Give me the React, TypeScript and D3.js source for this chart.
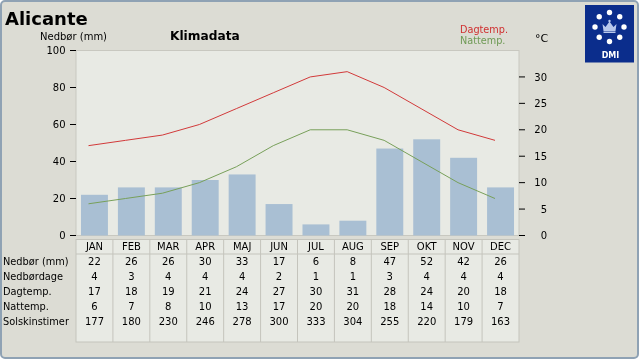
import React from "react";
import * as d3 from "d3";

const months = ["JAN", "FEB", "MAR", "APR", "MAJ", "JUN", "JUL", "AUG", "SEP", "OKT", "NOV", "DEC"];
const nedbor = [22, 26, 26, 30, 33, 17, 6, 8, 47, 52, 42, 26];
const nedbordage = [4, 3, 4, 4, 4, 2, 1, 1, 3, 4, 4, 4];
const dagtemp = [17, 18, 19, 21, 24, 27, 30, 31, 28, 24, 20, 18];
const nattemp = [6, 7, 8, 10, 13, 17, 20, 20, 18, 14, 10, 7];
const solskin = [177, 180, 230, 246, 278, 300, 333, 304, 255, 220, 179, 163];
const rowLabels = ["Nedbør (mm)", "Nedbørdage", "Dagtemp.", "Nattemp.", "Solskinstimer"];
const leftTicks = [0, 20, 40, 60, 80, 100];
const rightTicks = [0, 5, 10, 15, 20, 25, 30];

const FONT = "DejaVu Sans, Verdana, sans-serif";
const PL = 76, PR = 519, PT = 50.5, PB = 235.5;

export default function App() {
  const xBand = d3.scaleBand<string>().domain(months).range([PL, PR]).paddingInner(0.27).paddingOuter(0.135);
  const xCol = d3.scaleBand<string>().domain(months).range([PL, PR]).padding(0);
  const xLine = d3.scalePoint<string>().domain(months).range([88.5, 495]);
  const yL = d3.scaleLinear().domain([0, 100]).range([PB, PT]);
  const yR = d3.scaleLinear().domain([0, 35]).range([PB, PT]);
  const line = d3.line<number>().x((_, i) => xLine(months[i])!).y((d) => yR(d));
  const rows = [nedbor, nedbordage, dagtemp, nattemp, solskin];
  const tTop = 239.5, tHead = 254, tBot = 342;
  const rowY = (i: number) => 261.7 + i * 15;

  return (
    <svg width={640} height={360} style={{ position: "fixed", left: 0, top: 0 }} fontFamily={FONT}>
      <rect x={1} y={1} width={637} height={357} rx={4} fill="#dcdcd4" stroke="#8fa2b4" strokeWidth={2} />
      <text x={5} y={25} fontSize={18} fontWeight="bold" fill="#000">Alicante</text>
      <text x={40} y={39.5} fontSize={10} fill="#000">Nedbør (mm)</text>
      <text x={170} y={39.5} fontSize={12.2} fontWeight="bold" fill="#000">Klimadata</text>
      <text x={460} y={33} fontSize={9.7} fill="#d03030">Dagtemp.</text>
      <text x={460} y={44} fontSize={9.7} fill="#6f9a55">Nattemp.</text>
      <text x={535} y={42} fontSize={11} fill="#000">°C</text>

      {/* DMI logo */}
      <rect x={585} y={5} width={49} height={57.5} fill="#0b2d8c" />
      {d3.range(8).map((k) => {
        const a = (k * Math.PI) / 4;
        return <circle key={k} cx={609.5 + 14.5 * Math.sin(a)} cy={27 - 14.5 * Math.cos(a)} r={2.7} fill="#ffffff" />;
      })}
      <path d="M603.5,31 L602.5,24 L605.5,27 L609.5,21.5 L613.5,27 L616.5,24 L615.5,31 Z M603.5,31.5 h12 v1.5 h-12 Z" fill="#b8c8ec" />
      <circle cx={609.5} cy={21} r={1.2} fill="#b8c8ec" />
      <text x={610.5} y={58} fontSize={8} fontWeight="bold" fill="#ffffff" textAnchor="middle">DMI</text>

      {/* plot area */}
      <rect x={PL} y={PT} width={PR - PL} height={PB - PT} fill="#e8eae4" stroke="#c8c8c0" strokeWidth={1} />
      {nedbor.map((v, i) => (
        <rect key={i} x={xBand(months[i])} y={yL(v)} width={xBand.bandwidth()} height={PB - yL(v)} fill="#a9bfd3" />
      ))}
      <path d={line(dagtemp)!} fill="none" stroke="#d23a3a" strokeWidth={1} />
      <path d={line(nattemp)!} fill="none" stroke="#78a05a" strokeWidth={1} />

      {/* left axis */}
      {leftTicks.map((t) => (
        <g key={t}>
          <line x1={70} x2={76} y1={yL(t)} y2={yL(t)} stroke="#000" strokeWidth={1} />
          <text x={65.5} y={yL(t) + 3.6} fontSize={10} textAnchor="end" fill="#000">{t}</text>
        </g>
      ))}
      {/* right axis */}
      {rightTicks.map((t) => (
        <g key={t}>
          <line x1={519} x2={525} y1={yR(t)} y2={yR(t)} stroke="#000" strokeWidth={1} />
          <text x={547} y={yR(t) + 3.6} fontSize={10} textAnchor="end" fill="#000">{t}</text>
        </g>
      ))}

      {/* table */}
      <rect x={PL} y={tTop} width={PR - PL} height={tBot - tTop} fill="#e8eae4" stroke="#c4c4bc" strokeWidth={1} />
      <line x1={PL} x2={PR} y1={tHead} y2={tHead} stroke="#c4c4bc" strokeWidth={1} />
      {months.map((m, i) => (
        <g key={m}>
          {i > 0 && <line x1={xCol(m)!} x2={xCol(m)!} y1={tTop} y2={tBot} stroke="#c4c4bc" strokeWidth={1} />}
          <text x={xCol(m)! + xCol.bandwidth() / 2} y={250} fontSize={10} textAnchor="middle" fill="#000">{m}</text>
          {rows.map((r, j) => (
            <text key={j} x={xCol(m)! + xCol.bandwidth() / 2} y={rowY(j) + 3.6} fontSize={10} textAnchor="middle" fill="#000">{r[i]}</text>
          ))}
        </g>
      ))}
      {rowLabels.map((l, j) => (
        <text key={l} x={3} y={rowY(j) + 3.6} fontSize={9.8} fill="#000">{l}</text>
      ))}
    </svg>
  );
}
